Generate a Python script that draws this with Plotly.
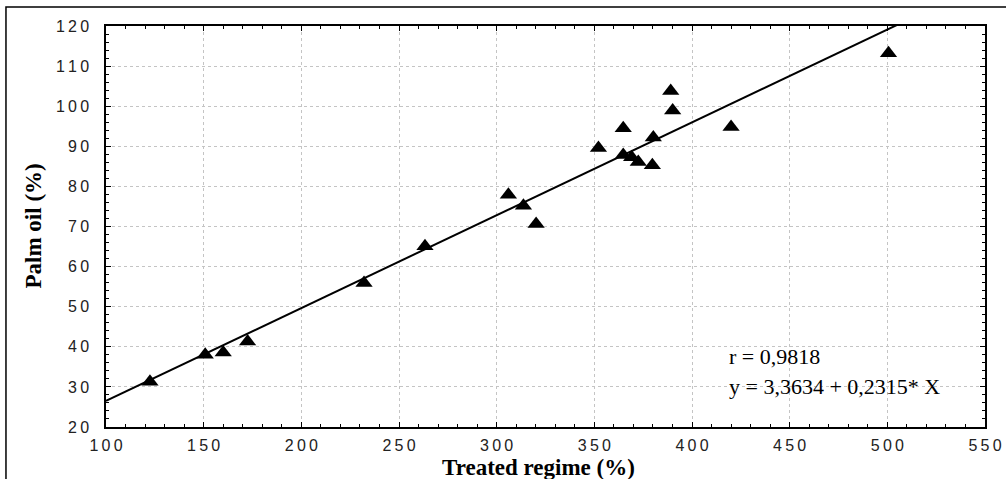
import plotly.graph_objects as go

# data
treated = [122.5, 150.8, 160.0, 172.5, 232.1, 263.3, 306.0, 313.7, 320.2, 352.1,
           364.8, 364.8, 369.1, 372.5, 379.7, 380.2, 389.1, 390.1, 420.0, 500.6]
palm = [31.3, 38.0, 38.6, 41.3, 55.9, 65.1, 77.9, 75.2, 70.6, 89.6,
        94.5, 87.8, 87.3, 86.1, 85.3, 92.2, 103.8, 98.9, 94.8, 113.2]
intercept = 3.3634
slope = 0.2315
r_value = "0,9818"
x_ticks = [100, 150, 200, 250, 300, 350, 400, 450, 500, 550]
y_ticks = [20, 30, 40, 50, 60, 70, 80, 90, 100, 110, 120]

def spaced(v):
    return "\u2009".join(str(v))

line_x = [100, 550]
line_y = [intercept + slope * v for v in line_x]

fig = go.Figure()
fig.add_trace(go.Scatter(x=line_x, y=line_y, mode="lines",
                         line=dict(color="black", width=2), hoverinfo="skip",
                         showlegend=False))
fig.add_trace(go.Scatter(x=treated, y=palm, mode="markers",
                         marker=dict(symbol="triangle-up", size=15, color="black"),
                         showlegend=False))

tickfont = dict(family="Liberation Sans, Arial, sans-serif", size=16, color="#222")
fig.update_xaxes(range=[100, 550], tickvals=x_ticks, ticktext=[spaced(v) for v in x_ticks],
                 showline=True, linecolor="black", linewidth=1.5, mirror="allticks",
                 ticks="inside", ticklen=5, tickcolor="black", tickwidth=1,
                 minor=dict(dtick=10, ticks="inside", ticklen=3, tickcolor="black", showgrid=False),
                 showgrid=True, gridcolor="#c4c4c4", griddash="dot", gridwidth=1,
                 zeroline=False, tickfont=tickfont, ticklabelstandoff=3, automargin=False)
fig.update_yaxes(range=[20, 120], tickvals=y_ticks, ticktext=[spaced(v) for v in y_ticks],
                 showline=True, linecolor="black", linewidth=1.5, mirror="allticks",
                 ticks="inside", ticklen=5, tickcolor="black", tickwidth=1,
                 minor=dict(dtick=2, ticks="inside", ticklen=3, tickcolor="black", showgrid=False),
                 showgrid=True, gridcolor="#c4c4c4", griddash="dot", gridwidth=1,
                 zeroline=False, tickfont=tickfont, ticklabelstandoff=12, automargin=False)

serif = "Liberation Serif, Times New Roman, serif"
fig.add_annotation(xref="paper", yref="paper", x=(538 - 106) / 879, y=(427 - 467) / 401,
                   text="<b>Treated regime (%)</b>", showarrow=False,
                   xanchor="center", yanchor="middle",
                   font=dict(family=serif, size=23, color="black"))
fig.add_annotation(xref="paper", yref="paper", x=(33 - 106) / 879, y=0.5,
                   text="<b>Palm oil (%)</b>", showarrow=False, textangle=-90,
                   xanchor="center", yanchor="middle",
                   font=dict(family=serif, size=23, color="black"))

annfont = dict(family=serif, size=22, color="black")
fig.add_annotation(x=418, y=37.5, text="r = " + r_value, showarrow=False,
                   xanchor="left", yanchor="middle", font=annfont)
fig.add_annotation(x=418, y=30.0,
                   text="y = 3,3634 + 0,2315* X", showarrow=False,
                   xanchor="left", yanchor="middle", font=annfont)

# outer frame
fig.add_shape(type="rect", xref="paper", yref="paper",
              x0=-0.1138, x1=1.05, y0=-0.3, y1=1.0474,
              line=dict(color="black", width=1.5), fillcolor="rgba(0,0,0,0)", layer="above")

fig.update_layout(width=1006, height=479, plot_bgcolor="white", paper_bgcolor="white",
                  margin=dict(l=106, r=21, t=26, b=52), showlegend=False)
fig.write_html("out.html", config={"displayModeBar": False},
               post_script="document.body.style.margin='0';document.body.style.overflow='hidden';")
